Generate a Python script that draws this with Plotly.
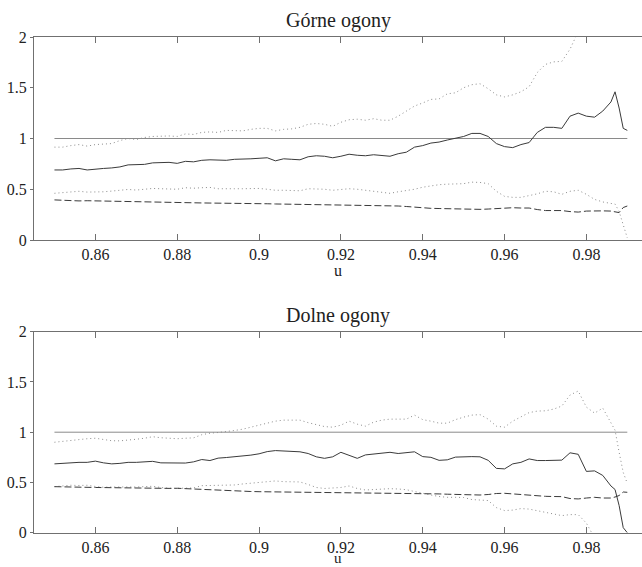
import plotly.graph_objects as go

# x grid (u)
u = [0.850, 0.852, 0.854, 0.856, 0.858, 0.860, 0.862, 0.864, 0.866, 0.868,
     0.870, 0.872, 0.874, 0.876, 0.878, 0.880, 0.882, 0.884, 0.886, 0.888,
     0.890, 0.892, 0.894, 0.896, 0.898, 0.900, 0.902, 0.904, 0.906, 0.908,
     0.910, 0.912, 0.914, 0.916, 0.918, 0.920, 0.922, 0.924, 0.926, 0.928,
     0.930, 0.932, 0.934, 0.936, 0.938, 0.940, 0.942, 0.944, 0.946, 0.948,
     0.950, 0.952, 0.954, 0.956, 0.958, 0.960, 0.962, 0.964, 0.966, 0.968,
     0.970, 0.972, 0.974, 0.976, 0.978, 0.980, 0.982, 0.984, 0.986, 0.987,
     0.988, 0.989, 0.990]

ref_u = [0.85, 0.99]
ref_v = [1.0, 1.0]

# ---- Górne ogony (upper tails) ----
up_est = [0.69, 0.69, 0.70, 0.705, 0.69, 0.70, 0.705, 0.71, 0.72, 0.74,
          0.74, 0.745, 0.76, 0.765, 0.765, 0.755, 0.775, 0.77, 0.785, 0.79,
          0.785, 0.785, 0.795, 0.795, 0.80, 0.805, 0.81, 0.78, 0.80, 0.795,
          0.79, 0.82, 0.83, 0.825, 0.81, 0.825, 0.845, 0.835, 0.83, 0.84,
          0.83, 0.825, 0.85, 0.865, 0.915, 0.93, 0.955, 0.965, 0.985, 1.0,
          1.02, 1.05, 1.05, 1.02, 0.95, 0.92, 0.91, 0.94, 0.96, 1.06,
          1.11, 1.11, 1.10, 1.22, 1.25, 1.22, 1.21, 1.27, 1.36, 1.46,
          1.30, 1.10, 1.08]
up_hi = [0.915, 0.915, 0.93, 0.94, 0.925, 0.94, 0.945, 0.95, 0.98, 1.0,
         0.99, 1.01, 1.02, 1.025, 1.025, 1.02, 1.045, 1.04, 1.06, 1.065,
         1.06, 1.08, 1.08, 1.075, 1.09, 1.10, 1.10, 1.075, 1.09, 1.095,
         1.11, 1.14, 1.148, 1.14, 1.12, 1.16, 1.185, 1.19, 1.18, 1.195,
         1.18, 1.18, 1.22, 1.27, 1.32, 1.35, 1.385, 1.39, 1.44, 1.45,
         1.50, 1.53, 1.54, 1.49, 1.43, 1.41, 1.43, 1.46, 1.51, 1.65,
         1.73, 1.755, 1.76, 1.88, 2.05, 2.2, 2.35, 2.5, 2.7, 2.8,
         2.9, 3.0, 3.1]
up_lo = [0.46, 0.465, 0.47, 0.48, 0.472, 0.47, 0.475, 0.482, 0.49, 0.498,
         0.492, 0.50, 0.508, 0.505, 0.50, 0.50, 0.515, 0.51, 0.515, 0.518,
         0.505, 0.502, 0.505, 0.505, 0.505, 0.508, 0.50, 0.49, 0.49, 0.485,
         0.485, 0.505, 0.505, 0.50, 0.49, 0.495, 0.505, 0.50, 0.49, 0.485,
         0.47, 0.46, 0.475, 0.485, 0.50, 0.52, 0.535, 0.545, 0.55, 0.552,
         0.555, 0.57, 0.567, 0.555, 0.48, 0.43, 0.42, 0.42, 0.435, 0.455,
         0.48, 0.475, 0.45, 0.48, 0.49, 0.45, 0.40, 0.375, 0.36, 0.355,
         0.28, 0.15, 0.02]
up_alt = [0.395, 0.39, 0.385, 0.385, 0.387, 0.385, 0.385, 0.383, 0.38, 0.378,
          0.378, 0.375, 0.372, 0.368, 0.367, 0.368, 0.367, 0.366, 0.365, 0.364,
          0.364, 0.363, 0.362, 0.362, 0.36, 0.358, 0.357, 0.355, 0.354, 0.353,
          0.35, 0.347, 0.345, 0.345, 0.344, 0.344, 0.344, 0.343, 0.343, 0.342,
          0.34, 0.338, 0.335, 0.33, 0.322, 0.318, 0.312, 0.31, 0.307, 0.305,
          0.304, 0.303, 0.302, 0.305, 0.31, 0.32, 0.318, 0.315, 0.315, 0.30,
          0.29, 0.29, 0.29, 0.28, 0.275, 0.285, 0.288, 0.287, 0.285, 0.275,
          0.27, 0.32, 0.335]

# ---- Dolne ogony (lower tails) ----
lo_est = [0.685, 0.69, 0.70, 0.70, 0.70, 0.712, 0.695, 0.685, 0.69, 0.70,
          0.70, 0.705, 0.71, 0.695, 0.692, 0.692, 0.693, 0.705, 0.728, 0.718,
          0.742, 0.748, 0.755, 0.762, 0.772, 0.785, 0.807, 0.817, 0.815, 0.814,
          0.805, 0.788, 0.755, 0.74, 0.755, 0.80, 0.77, 0.74, 0.774, 0.785,
          0.795, 0.80, 0.788, 0.80, 0.805, 0.757, 0.75, 0.72, 0.725, 0.752,
          0.757, 0.757, 0.755, 0.72, 0.64, 0.635, 0.685, 0.70, 0.734, 0.718,
          0.718, 0.72, 0.722, 0.795, 0.78, 0.61, 0.615, 0.57, 0.465, 0.43,
          0.27, 0.05, 0.0]
lo_hi = [0.90, 0.91, 0.922, 0.93, 0.935, 0.94, 0.925, 0.915, 0.914, 0.92,
         0.93, 0.94, 0.955, 0.945, 0.937, 0.935, 0.94, 0.944, 0.975, 0.99,
         0.997, 1.005, 1.017, 1.03, 1.05, 1.065, 1.09, 1.11, 1.12, 1.12,
         1.12, 1.095, 1.075, 1.056, 1.05, 1.07, 1.11, 1.08, 1.06, 1.10,
         1.12, 1.13, 1.13, 1.13, 1.17, 1.125, 1.11, 1.09, 1.09, 1.125,
         1.15, 1.17, 1.175, 1.13, 1.06, 1.05, 1.11, 1.15, 1.195, 1.21,
         1.213, 1.23, 1.26, 1.37, 1.41, 1.25, 1.19, 1.24, 1.10, 1.02,
         0.80, 0.60, 0.49]
lo_lo = [0.458, 0.468, 0.472, 0.47, 0.472, 0.46, 0.452, 0.455, 0.458, 0.455,
         0.455, 0.46, 0.462, 0.45, 0.442, 0.442, 0.443, 0.445, 0.468, 0.468,
         0.47, 0.473, 0.475, 0.485, 0.492, 0.498, 0.51, 0.515, 0.508, 0.505,
         0.505, 0.48, 0.45, 0.44, 0.445, 0.45, 0.465, 0.44, 0.425, 0.43,
         0.435, 0.438, 0.435, 0.428, 0.41, 0.39, 0.375, 0.36, 0.352, 0.352,
         0.35, 0.33, 0.325, 0.32, 0.25, 0.22, 0.225, 0.24, 0.235, 0.22,
         0.205, 0.185, 0.17, 0.18, 0.18, 0.095, -0.05, -0.2, -0.4, -0.5,
         -0.6, -0.7, -0.8]
lo_alt = [0.458, 0.455, 0.452, 0.452, 0.451, 0.45, 0.449, 0.448, 0.447, 0.446,
          0.445, 0.44, 0.437, 0.438, 0.441, 0.442, 0.438, 0.432, 0.428, 0.425,
          0.422, 0.42, 0.418, 0.412, 0.41, 0.408, 0.407, 0.407, 0.406, 0.405,
          0.405, 0.405, 0.405, 0.405, 0.405, 0.405, 0.404, 0.403, 0.401, 0.399,
          0.398, 0.397, 0.395, 0.393, 0.392, 0.391, 0.389, 0.386, 0.383, 0.38,
          0.378, 0.376, 0.375, 0.38, 0.39, 0.392, 0.385, 0.38, 0.375, 0.365,
          0.362, 0.36, 0.359, 0.34, 0.336, 0.345, 0.352, 0.345, 0.345, 0.355,
          0.37, 0.405, 0.402]

titles = ["Górne ogony", "Dolne ogony"]
x_ticks = [0.86, 0.88, 0.90, 0.92, 0.94, 0.96, 0.98]
x_ticktext = ["0.86", "0.88", "0.9", "0.92", "0.94", "0.96", "0.98"]
y_ticks = [0, 0.5, 1, 1.5, 2]
y_ticktext = ["0", "0.5", "1", "1.5", "2"]

W, H = 642, 567
FONT = "Liberation Serif, Times New Roman, Times, DejaVu Serif, serif"
SOLID = "#3a3a3a"
REF = "#8a8a8a"
DOT = "#8c8c8c"

fig = go.Figure()

panels = [
    (up_est, up_hi, up_lo, up_alt, "x", "y"),
    (lo_est, lo_hi, lo_lo, lo_alt, "x2", "y2"),
]
for est, hi, lo, alt, xa, ya in panels:
    fig.add_trace(go.Scatter(x=ref_u, y=ref_v, mode="lines", xaxis=xa, yaxis=ya,
                             line=dict(color=REF, width=1), showlegend=False, hoverinfo="skip"))
    fig.add_trace(go.Scatter(x=u, y=hi, mode="lines", xaxis=xa, yaxis=ya,
                             line=dict(color=DOT, width=1, dash="1px,3px"), showlegend=False))
    fig.add_trace(go.Scatter(x=u, y=lo, mode="lines", xaxis=xa, yaxis=ya,
                             line=dict(color=DOT, width=1, dash="1px,3px"), showlegend=False))
    fig.add_trace(go.Scatter(x=u, y=alt, mode="lines", xaxis=xa, yaxis=ya,
                             line=dict(color=SOLID, width=1, dash="7px,3px"), showlegend=False))
    fig.add_trace(go.Scatter(x=u, y=est, mode="lines", xaxis=xa, yaxis=ya,
                             line=dict(color=SOLID, width=1), showlegend=False))

xrange_ = [0.845, 0.99359]
axis_col = "#707070"
xcommon = dict(range=xrange_, tickvals=x_ticks, ticktext=x_ticktext, ticks="inside",
               ticklen=6, tickcolor=axis_col, showline=True, linecolor=axis_col, linewidth=1,
               mirror="ticks", showgrid=False, zeroline=False, automargin=False,
               tickfont=dict(family=FONT, size=16, color="#222"))
ycommon = dict(range=[0, 2], tickvals=y_ticks, ticktext=y_ticktext, ticks="outside",
               ticklen=3, tickcolor=axis_col, showline=True, linecolor=axis_col, linewidth=1,
               showgrid=False, zeroline=False, automargin=False,
               tickfont=dict(family=FONT, size=16, color="#222"))

top_dom = [(H - 240) / H, (H - 37) / H]
bot_dom = [(H - 532.7) / H, (H - 331.7) / H]

fig.update_layout(
    width=W, height=H,
    margin=dict(l=34, r=0, t=0, b=0),
    paper_bgcolor="white", plot_bgcolor="white",
    showlegend=False,
    font=dict(family=FONT),
    xaxis=dict(xcommon, anchor="y", domain=[0, 1]),
    yaxis=dict(ycommon, anchor="x", domain=top_dom),
    xaxis2=dict(xcommon, anchor="y2", domain=[0, 1]),
    yaxis2=dict(ycommon, anchor="x2", domain=bot_dom),
    annotations=[
        dict(text=titles[0], x=0.5, y=(H - 20) / H, xref="paper", yref="paper",
             showarrow=False, font=dict(family=FONT, size=20, color="#222"),
             xanchor="center", yanchor="middle"),
        dict(text=titles[1], x=0.5, y=(H - 315) / H, xref="paper", yref="paper",
             showarrow=False, font=dict(family=FONT, size=20, color="#222"),
             xanchor="center", yanchor="middle"),
        dict(text="u", x=0.5, y=(H - 270) / H, xref="paper", yref="paper",
             showarrow=False, font=dict(family=FONT, size=16, color="#222"),
             xanchor="center", yanchor="middle"),
        dict(text="u", x=0.5, y=0, xref="paper", yref="paper",
             showarrow=False, font=dict(family=FONT, size=15, color="#222"),
             xanchor="center", yanchor="bottom", borderpad=0),
    ],
)

fig.write_html("out.html", config={"displayModeBar": False},
               post_script="document.body.style.margin='0';document.body.style.padding='0';document.body.style.overflow='hidden';")
